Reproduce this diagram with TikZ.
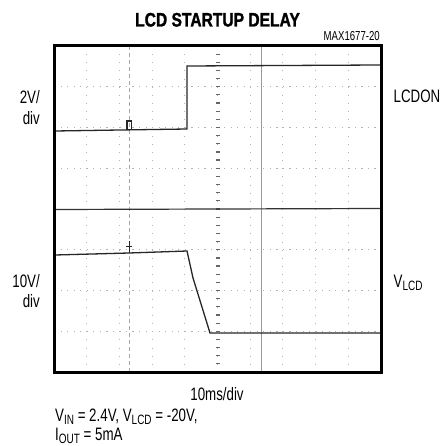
\documentclass[tikz,border=0pt]{standalone}
\usepackage{fontspec}
\setmainfont{Liberation Sans}[FakeStretch=0.74]
\newfontfamily\titlefont{Liberation Sans Bold}[FakeStretch=0.8,FakeBold=1.3]
\newcommand{\lowtext}[1]{\raisebox{-0.35ex}{\fontsize{13.5}{14}\selectfont #1}}

\begin{document}
\begin{tikzpicture}[x=1pt,y=-1pt,font=\fontsize{18}{20}\selectfont]
  \useasboundingbox (0,0) rectangle (441,446);
  % grid
  \foreach \i in {1,...,9}
    \draw[gray!60, line width=0.9pt, dash pattern=on 1pt off 7.15pt] ({54+\i*32.7},46) -- ({54+\i*32.7},372);
  \foreach \j in {1,2,3,5,6,7}
    \draw[gray!60, line width=0.9pt, dash pattern=on 1.2pt off 5.34pt] (54,{46+\j*40.75}) -- (381,{46+\j*40.75});
  \foreach \k in {1,...,39}
    \draw[black!60, line width=1.2pt] (215.5,{46+\k*8.15}) -- (219.5,{46+\k*8.15});
  \draw[gray!70, line width=0.9pt, dash pattern=on 4pt off 3pt] (129,46) -- (129,372);
  \draw[gray!80, line width=0.7pt] (261,46) -- (261,372);
  % traces
  \draw[black!85, line width=1.3pt] (55,131) -- (120,130) -- (187,129) -- (187,66) -- (380,65);
  \draw[black!85, line width=1.1pt] (127,130) -- (127,121) -- (131.5,121) -- (131.5,130);
  \draw[black!80, line width=1.2pt] (55,209.5) -- (380,208.5);
  \draw[black!85, line width=1.3pt] (55,255) -- (129,253) -- (187,251) -- (193,278) -- (210,333) -- (380,333);
  \draw[black!85, line width=1pt] (129,253) -- (129,241) (126,246) -- (132,246);
  \draw[line width=3pt] (54,46) rectangle (381,372);
  % labels
  \node[anchor=base, font=\fontsize{19.5}{20}\titlefont] (title) at (217.5,26.5) {LCD STARTUP DELAY};
  \node[anchor=base east, inner sep=0pt, font=\fontsize{13}{13}\selectfont] (code) at (380,40.5) {MAX1677-20};
  \node[anchor=base east, inner sep=0pt] (sa) at (40,104) {2V/};
  \node[anchor=base east, inner sep=0pt] (sb) at (40,124.5) {div};
  \node[anchor=base east, inner sep=0pt] (sc) at (40,287) {10V/};
  \node[anchor=base east, inner sep=0pt] (sd) at (40,307.5) {div};
  \node[anchor=base west, inner sep=0pt] (lcdon) at (393.5,103) {LCDON};
  \node[anchor=base west, inner sep=0pt] (vlcd) at (393.5,287) {V\lowtext{LCD}};
  \node[anchor=base, inner sep=0pt] (time) at (217,400) {10ms/div};
  \node[anchor=base west, inner sep=0pt] (cond1) at (55,421) {V\lowtext{IN} = 2.4V, V\lowtext{LCD} = -20V,};
  \node[anchor=base west, inner sep=0pt] (cond2) at (55,440.5) {I\lowtext{OUT} = 5mA};
\end{tikzpicture}
\end{document}
